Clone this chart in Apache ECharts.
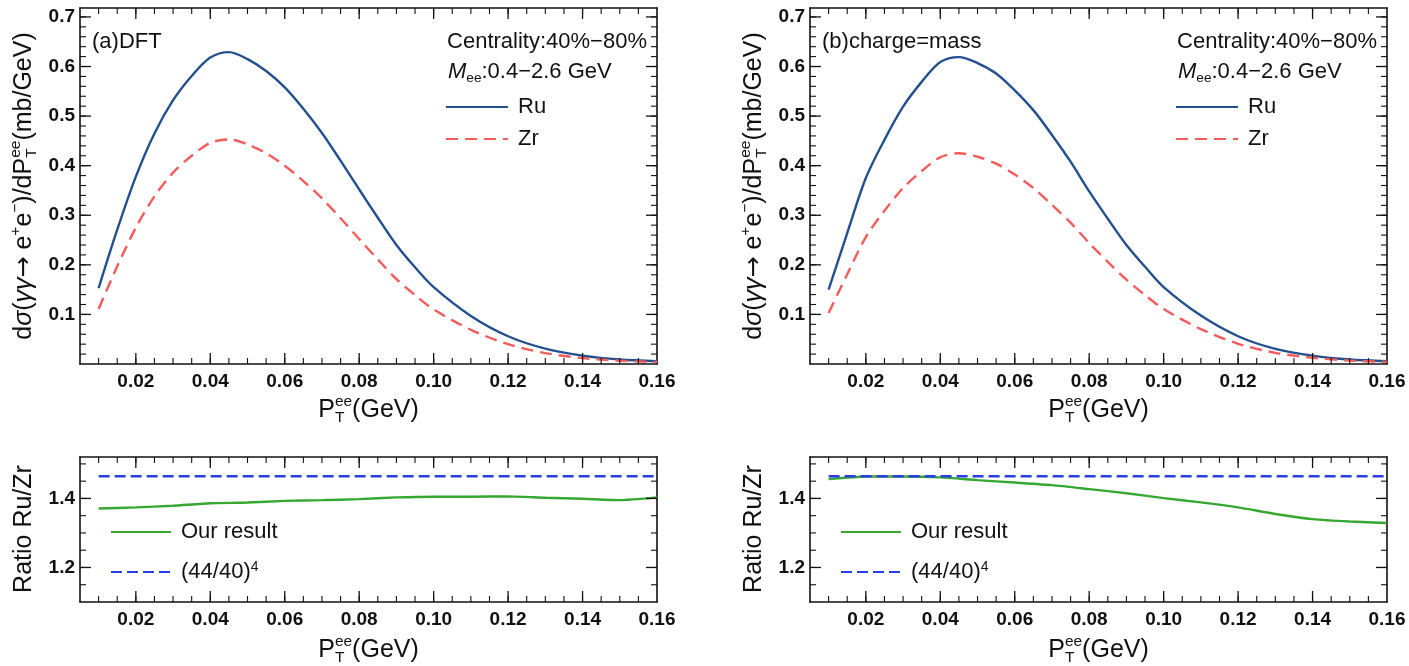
<!DOCTYPE html>
<html>
<head>
<meta charset="utf-8">
<script src="https://cdn.jsdelivr.net/npm/echarts@6/dist/echarts.min.js"></script>
<style>
  html, body { margin: 0; padding: 0; background: #ffffff; }
  #chart { width: 1409px; height: 666px; }
</style>
</head>
<body>
<div id="chart"></div>
<script>
// Pair transverse momentum P_T^ee (GeV) for the spectra
const ptSpectrum = [0.010, 0.015, 0.020, 0.025, 0.030, 0.035, 0.040, 0.045, 0.050, 0.055,
                    0.060, 0.065, 0.070, 0.075, 0.080, 0.085, 0.090, 0.095, 0.100,
                    0.110, 0.120, 0.130, 0.140, 0.150, 0.160];

// dσ/dP_T (mb/GeV), (a) DFT densities
const ruDFT = [0.153, 0.271, 0.378, 0.465, 0.532, 0.581, 0.618, 0.629, 0.615, 0.591,
               0.558, 0.515, 0.466, 0.410, 0.352, 0.295, 0.240, 0.195, 0.155,
               0.097, 0.056, 0.031, 0.017, 0.009, 0.0055];
const zrDFT = [0.111, 0.197, 0.275, 0.338, 0.386, 0.420, 0.446, 0.453, 0.443, 0.425,
               0.400, 0.369, 0.334, 0.294, 0.252, 0.211, 0.171, 0.139, 0.110,
               0.069, 0.040, 0.022, 0.012, 0.0065, 0.004];

// dσ/dP_T (mb/GeV), (b) charge = mass densities
const ruChargeMass = [0.150, 0.264, 0.375, 0.452, 0.519, 0.569, 0.609, 0.619, 0.607, 0.586,
                      0.552, 0.512, 0.462, 0.408, 0.348, 0.293, 0.240, 0.196, 0.155,
                      0.0976, 0.056, 0.0305, 0.017, 0.009, 0.0055];
const zrChargeMass = [0.103, 0.181, 0.256, 0.309, 0.355, 0.389, 0.417, 0.425, 0.418, 0.404,
                      0.382, 0.355, 0.321, 0.285, 0.244, 0.206, 0.170, 0.139, 0.111,
                      0.0703, 0.0408, 0.0225, 0.0127, 0.0068, 0.0043];

// Ratio Ru/Zr
const ptRatio = [0.01, 0.02, 0.03, 0.04, 0.05, 0.06, 0.07, 0.08,
                 0.09, 0.10, 0.11, 0.12, 0.13, 0.14, 0.15, 0.16];
const ratioDFT = [1.371, 1.374, 1.379, 1.386, 1.388, 1.393, 1.395, 1.398,
                  1.403, 1.405, 1.405, 1.406, 1.402, 1.399, 1.395, 1.403];
const ratioChargeMass = [1.456, 1.4635, 1.4635, 1.461, 1.453, 1.446, 1.4385, 1.427,
                         1.415, 1.401, 1.3885, 1.374, 1.355, 1.340, 1.333, 1.329];
const scalingRatio = 1.4641;          // (44/40)^4
const scalingSpan = [0.01, 0.16];

// Tick labels
const ptTicks = [0.02, 0.04, 0.06, 0.08, 0.10, 0.12, 0.14, 0.16];
const spectrumTicks = [0.1, 0.2, 0.3, 0.4, 0.5, 0.6, 0.7];
const ratioTicks = [1.2, 1.4];

const FAMILY = "'Liberation Sans', Arial, Helvetica, sans-serif";
const INK = '#111111';
const RU_COLOR = '#23508e';
const ZR_COLOR = '#f45b5b';
const RESULT_COLOR = '#36a832';
const SCALE_COLOR = '#2b3de6';
const MAJOR_LEN = 11, MINOR_LEN = 6;

const grids = [
  { left: 80, top: 8, width: 577, height: 356 },     // (a) spectra
  { left: 810, top: 8, width: 577, height: 356 },    // (b) spectra
  { left: 80, top: 457, width: 577, height: 145 },   // (a) ratio
  { left: 810, top: 457, width: 577, height: 145 }   // (b) ratio
];

const xAxes = [];
const yAxes = [];
const series = [];

// Step-locked value axis: the nice-tick search is pinned to one step size,
// so label positions fall on multiples of the step whatever the minimum is.
function stepAxis(g, range, step, position, opts) {
  return Object.assign({
    type: 'value', gridIndex: g, position: position,
    min: range[0], max: range[1], minInterval: step, maxInterval: step,
    splitNumber: Math.max(1, Math.round((range[1] - range[0]) / step)),
    splitLine: { show: false }, axisPointer: { show: false }, axisTick: { show: false }
  }, opts);
}

// Values on a regular step inside a range (used for the minor tick marks)
function stepValues(range, step) {
  const out = [];
  for (let k = Math.ceil(range[0] / step - 1e-9); k * step <= range[1] + 1e-9; k++) {
    out.push(+(k * step).toFixed(6));
  }
  return out;
}

// Inward tick marks on all four sides, placed through the grid's own axes
function addTickMarks(axes, xr, yr, xMajor, yMajor, xMinorStep, yMinorStep) {
  const marks = [];
  stepValues(xr, xMinorStep).forEach(v => marks.push([v, 0, MINOR_LEN]));
  xMajor.forEach(v => marks.push([v, 0, MAJOR_LEN]));
  stepValues(yr, yMinorStep).forEach(v => marks.push([v, 1, MINOR_LEN]));
  yMajor.forEach(v => marks.push([v, 1, MAJOR_LEN]));
  series.push({
    type: 'custom', xAxisIndex: axes.xi, yAxisIndex: axes.yi, silent: true, clip: false, z: 5,
    data: marks,
    encode: { x: 0, y: -1 },
    renderItem: (params, api) => {
      const cs = params.coordSys;
      const v = api.value(0), dim = api.value(1), len = api.value(2);
      const w = len === MAJOR_LEN ? 1.3 : 1.1;
      const st = { stroke: INK, lineWidth: w };
      if (dim === 0) {
        const px = api.coord([v, yr[0]])[0];
        if (px < cs.x + 1 || px > cs.x + cs.width - 1) return null;
        const yb = cs.y + cs.height, yt = cs.y;
        return { type: 'group', children: [
          { type: 'line', shape: { x1: px, y1: yb, x2: px, y2: yb - len }, style: st },
          { type: 'line', shape: { x1: px, y1: yt, x2: px, y2: yt + len }, style: st }
        ] };
      }
      const py = api.coord([xr[0], v])[1];
      if (py < cs.y + 1 || py > cs.y + cs.height - 1) return null;
      const xl = cs.x, xrr = cs.x + cs.width;
      return { type: 'group', children: [
        { type: 'line', shape: { x1: xl, y1: py, x2: xl + len, y2: py }, style: st },
        { type: 'line', shape: { x1: xrr, y1: py, x2: xrr - len, y2: py }, style: st }
      ] };
    }
  });
}

// Closed frame: labelled bottom/left axes, mirrored top/right lines, inward ticks
function addFrame(g, xr, yr, xMajorStep, yMajorStep, xMinorStep, yMinorStep, xLabels, yLabels, xFmt, yFmt) {
  const line = () => ({ show: true, onZero: false, lineStyle: { color: INK, width: 1.6 } });
  const onList = (list, fmt) => v => list.some(t => Math.abs(t - v) < 1e-9) ? fmt(v) : '';
  const label = (list, fmt, margin) => ({ show: true, formatter: onList(list, fmt),
      fontFamily: FAMILY, fontWeight: 'bold', fontSize: 19, color: INK, margin: margin,
      showMinLabel: true, showMaxLabel: true, hideOverlap: false });
  const off = () => ({ show: false });
  const xi = xAxes.length;
  xAxes.push(stepAxis(g, xr, xMajorStep, 'bottom', { axisLine: line(), axisLabel: label(xLabels, xFmt, 8) }));
  xAxes.push(stepAxis(g, xr, xMajorStep, 'top', { axisLine: line(), axisLabel: off() }));
  const yi = yAxes.length;
  yAxes.push(stepAxis(g, yr, yMajorStep, 'left', { axisLine: line(), axisLabel: label(yLabels, yFmt, 5) }));
  yAxes.push(stepAxis(g, yr, yMajorStep, 'right', { axisLine: line(), axisLabel: off() }));
  const axes = { xi: xi, yi: yi };
  addTickMarks(axes, xr, yr, xLabels, yLabels, xMinorStep, yMinorStep);
  return axes;
}

function curve(name, xs, ys, axes, color, dash, width, smooth) {
  series.push({
    type: 'line', name: name, xAxisIndex: axes.xi, yAxisIndex: axes.yi,
    data: xs.map((x, i) => [x, ys[i]]),
    symbol: 'none', showSymbol: false, silent: true, smooth: smooth || false,
    lineStyle: { color: color, width: width, type: dash || 'solid' },
    itemStyle: { color: color }
  });
}

const ptFmt = v => v.toFixed(2);
const oneDec = v => v.toFixed(1);
const ptRange = [0.005, 0.16];
const spectrumRange = [0, 0.718];
const ratioRange = [1.1, 1.52];

const panelA = addFrame(0, ptRange, spectrumRange, 0.02, 0.1, 0.005, 0.02, ptTicks, spectrumTicks, ptFmt, oneDec);
const panelB = addFrame(1, ptRange, spectrumRange, 0.02, 0.1, 0.005, 0.02, ptTicks, spectrumTicks, ptFmt, oneDec);
const ratioA = addFrame(2, ptRange, ratioRange, 0.02, 0.2, 0.005, 0.05, ptTicks, ratioTicks, ptFmt, oneDec);
const ratioB = addFrame(3, ptRange, ratioRange, 0.02, 0.2, 0.005, 0.05, ptTicks, ratioTicks, ptFmt, oneDec);

curve('Ru', ptSpectrum, ruDFT, panelA, RU_COLOR, 'solid', 2.4, 0.3);
curve('Zr', ptSpectrum, zrDFT, panelA, ZR_COLOR, [12, 7], 2.4, 0.3);
curve('Ru', ptSpectrum, ruChargeMass, panelB, RU_COLOR, 'solid', 2.4, 0.3);
curve('Zr', ptSpectrum, zrChargeMass, panelB, ZR_COLOR, [12, 7], 2.4, 0.3);

const scaleLine = scalingSpan.map(() => scalingRatio);
curve('Our result', ptRatio, ratioDFT, ratioA, RESULT_COLOR, 'solid', 2.4, 0.2);
curve('(44/40)^4', scalingSpan, scaleLine, ratioA, SCALE_COLOR, [11, 5], 2.4);
curve('Our result', ptRatio, ratioChargeMass, ratioB, RESULT_COLOR, 'solid', 2.4, 0.2);
curve('(44/40)^4', scalingSpan, scaleLine, ratioB, SCALE_COLOR, [11, 5], 2.4);

// Text with sub/superscripts, laid out piece by piece
const measure = document.createElement('canvas').getContext('2d');
const graphics = [];
function mathText(parts, cfg) {
  const baseSize = cfg.size;
  let x = 0, stackW = 0;
  const kids = [];
  parts.forEach(p => {
    const size = baseSize * (p.scale || 1);
    const fstyle = p.italic ? 'italic' : 'normal';
    const family = p.family || FAMILY;
    measure.font = fstyle + ' normal ' + size + 'px ' + family;
    const w = measure.measureText(p.text).width;
    kids.push({ type: 'text', x: x, y: (p.shift || 0) * baseSize,
      style: { text: p.text, fontSize: size, fontFamily: family, fontStyle: fstyle,
               fill: INK, align: 'left', verticalAlign: 'middle' } });
    if (p.stack) { stackW = Math.max(stackW, w); }
    else { x += Math.max(w, stackW); stackW = 0; }
  });
  const off = cfg.anchor === 'center' ? -x / 2 : (cfg.anchor === 'right' ? -x : 0);
  kids.forEach(k => { k.x += off; });
  graphics.push({ type: 'group', x: cfg.x, y: cfg.y, rotation: cfg.rotate ? Math.PI / 2 : 0,
                  silent: true, children: kids });
}

const SUP = -0.34, SUB = 0.32, SMALL = 0.62;
const spectrumTitle = [
  { text: 'd' }, { text: 'σ', italic: true }, { text: '(' }, { text: 'γγ', italic: true },
  { text: '→', family: "'DejaVu Sans', sans-serif" }, { text: ' e' },
  { text: '+', scale: SMALL, shift: SUP }, { text: 'e' },
  { text: '−', scale: SMALL, shift: SUP }, { text: ')/dP' },
  { text: 'ee', scale: SMALL, shift: SUP, stack: true }, { text: 'T', scale: SMALL, shift: SUB },
  { text: '(mb/GeV)' }
];
const ptTitle = [
  { text: 'P' }, { text: 'ee', scale: SMALL, shift: SUP, stack: true },
  { text: 'T', scale: SMALL, shift: SUB }, { text: '(GeV)' }
];
const massWindow = [
  { text: 'M', italic: true }, { text: 'ee', scale: SMALL, shift: 0.3 }, { text: ':0.4−2.6 GeV' }
];

const panelTags = ['(a)DFT', '(b)charge=mass'];
[0, 730].forEach((dx, k) => {
  mathText(spectrumTitle, { x: 24 + dx, y: 186, size: 25, anchor: 'center', rotate: true });
  mathText(ptTitle, { x: 368.5 + dx, y: 410, size: 25, anchor: 'center' });
  mathText([{ text: 'Ratio Ru/Zr' }], { x: 24 + dx, y: 529, size: 25, anchor: 'center', rotate: true });
  mathText(ptTitle, { x: 368.5 + dx, y: 650, size: 25, anchor: 'center' });
  mathText([{ text: panelTags[k] }], { x: 92 + dx, y: 42, size: 22, anchor: 'left' });
  mathText([{ text: 'Centrality:40%−80%' }], { x: 647 + dx, y: 42, size: 22, anchor: 'right' });
  mathText(massWindow, { x: 448 + dx, y: 72, size: 22, anchor: 'left' });
});

const legendText = { fontFamily: FAMILY, fontSize: 22, color: INK, lineHeight: 24, padding: [0, 0, 0, 5],
  rich: { sup: { fontFamily: FAMILY, fontSize: 14, color: INK, lineHeight: 14, verticalAlign: 'top' } } };
function legendAt(names, left, top, width, gap) {
  return { data: names, left: left, top: top, orient: 'vertical', padding: 0,
    itemWidth: width, itemHeight: 14, itemGap: gap, selectedMode: false,
    itemStyle: { color: 'rgba(0,0,0,0)', borderColor: 'rgba(0,0,0,0)', borderWidth: 0, opacity: 0 },
    textStyle: legendText,
    formatter: n => n === '(44/40)^4' ? '(44/40){sup|4}' : n };
}

const chart = echarts.init(document.getElementById('chart'), null, { renderer: 'canvas' });
chart.setOption({
  animation: false,
  backgroundColor: '#ffffff',
  grid: grids,
  xAxis: xAxes,
  yAxis: yAxes,
  legend: [
    legendAt(['Ru', 'Zr'], 445, 95, 62, 8),
    legendAt(['Ru', 'Zr'], 1175, 95, 62, 8),
    legendAt(['Our result', '(44/40)^4'], 110, 520, 60, 16),
    legendAt(['Our result', '(44/40)^4'], 840, 520, 60, 16)
  ],
  series: series,
  graphic: graphics
});
</script>
</body>
</html>
